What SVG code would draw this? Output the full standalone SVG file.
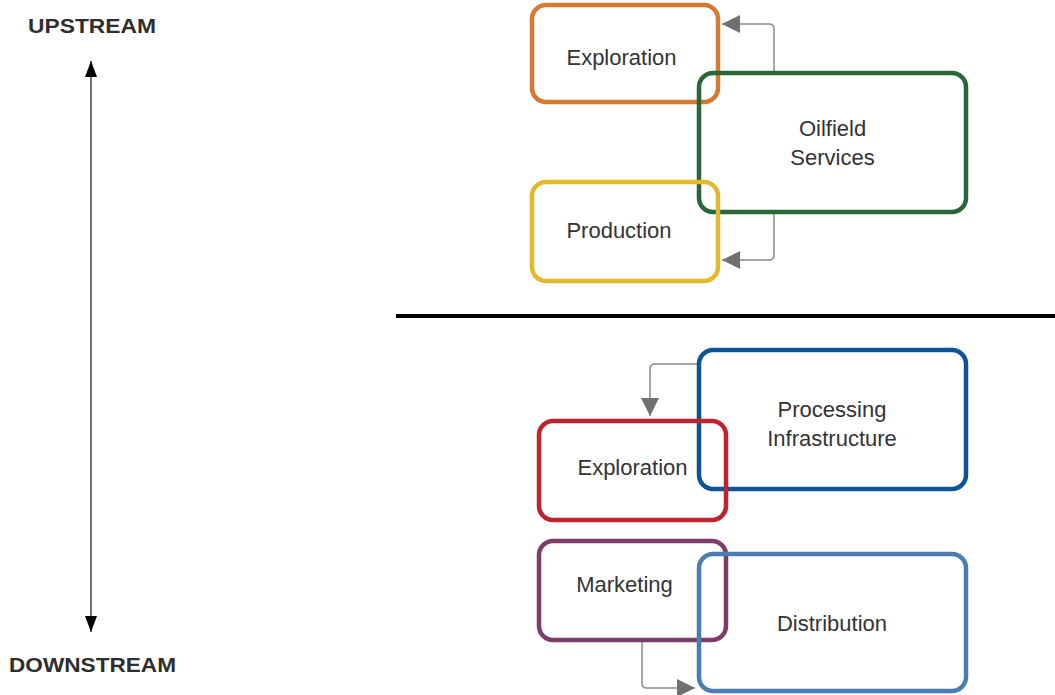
<svg xmlns="http://www.w3.org/2000/svg" width="1055" height="695" viewBox="0 0 1055 695">
<style>
.box{fill:none;stroke-width:4.5}
.lbl{font-family:"Liberation Sans",Arial,sans-serif;font-size:22px;fill:#333;text-anchor:middle}
.axis{font-family:"Liberation Sans",Arial,sans-serif;font-size:21px;font-weight:bold;fill:#2e2e2e}
.conn{fill:none;stroke:#8a8a8a;stroke-width:1.5}
</style>
<defs>
<marker id="ga" viewBox="0 0 18 18" markerWidth="18" markerHeight="18" refX="18" refY="9" orient="auto" markerUnits="userSpaceOnUse">
<path d="M0,0 L18,9 L0,18 z" fill="#707070"/>
</marker>
<marker id="ba" viewBox="0 0 16 12" markerWidth="16" markerHeight="12" refX="16" refY="6" orient="auto" markerUnits="userSpaceOnUse">
<path d="M0,0 L16,6 L0,12 z" fill="#000"/>
</marker>
</defs>
<rect width="1055" height="695" fill="#fff"/>
<g id="axis">
<text class="axis" x="28" y="33" textLength="128" lengthAdjust="spacingAndGlyphs">UPSTREAM</text>
<text class="axis" x="9" y="672" textLength="167" lengthAdjust="spacingAndGlyphs">DOWNSTREAM</text>
<line x1="91" y1="340" x2="91" y2="61" stroke="#444" stroke-width="1.5" marker-end="url(#ba)"/>
<line x1="91" y1="340" x2="91" y2="632" stroke="#444" stroke-width="1.5" marker-end="url(#ba)"/>
</g>
<line id="divider" x1="396" y1="316" x2="1055" y2="316" stroke="#000" stroke-width="4"/>
<g id="connectors">
<path class="conn" d="M774,71 V29 Q774,24 769,24 H722" marker-end="url(#ga)"/>
<path class="conn" d="M774,214 V255 Q774,260 769,260 H722" marker-end="url(#ga)"/>
<path class="conn" d="M697,364 H655 Q650,364 650,369 V416" marker-end="url(#ga)"/>
<path class="conn" d="M642,642 V683 Q642,688 647,688 H695" marker-end="url(#ga)"/>
</g>
<g id="node-exploration-up">
<rect class="box" x="532" y="5" width="186" height="97" rx="14" stroke="#D47A33"/>
<text class="lbl" x="621.5" y="65">Exploration</text>
</g>
<g id="node-oilfield">
<rect class="box" x="699" y="73" width="267" height="139" rx="14" stroke="#2A6637"/>
<text class="lbl" x="832.5" y="136">Oilfield</text>
<text class="lbl" x="832.5" y="165">Services</text>
</g>
<g id="node-production">
<rect class="box" x="532" y="182" width="186" height="99" rx="14" stroke="#E2B92D"/>
<text class="lbl" x="619" y="238">Production</text>
</g>
<g id="node-processing">
<rect class="box" x="699" y="350" width="267" height="139" rx="14" stroke="#0D5496"/>
<text class="lbl" x="832" y="417">Processing</text>
<text class="lbl" x="832" y="446">Infrastructure</text>
</g>
<g id="node-exploration-down">
<rect class="box" x="539" y="421" width="187" height="99" rx="14" stroke="#BE2330"/>
<text class="lbl" x="632.5" y="475">Exploration</text>
</g>
<g id="node-marketing">
<rect class="box" x="539" y="541" width="187" height="99" rx="14" stroke="#7D3D6B"/>
<text class="lbl" x="624.5" y="592">Marketing</text>
</g>
<g id="node-distribution">
<rect class="box" x="699" y="554" width="267" height="137" rx="14" stroke="#4A7DB2"/>
<text class="lbl" x="832" y="631">Distribution</text>
</g>
</svg>
